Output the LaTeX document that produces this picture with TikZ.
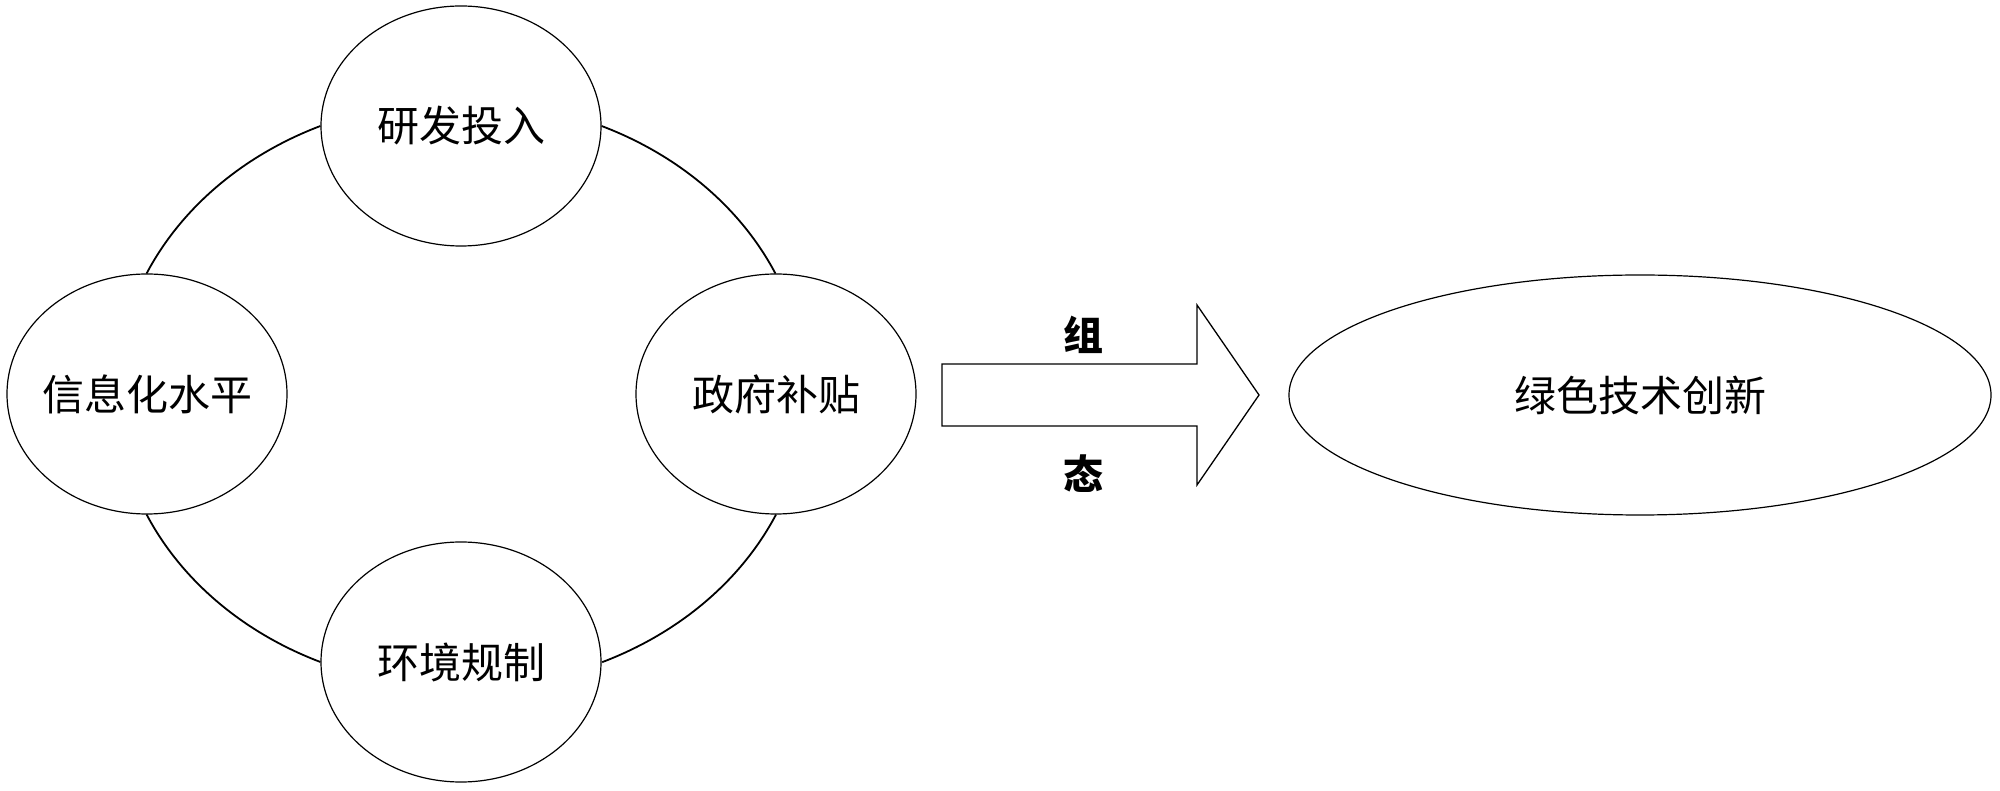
\documentclass[tikz,border=0pt]{standalone}
\usepackage{fontspec}
\newfontfamily\cjk{Noto Sans CJK SC}
\usetikzlibrary{shapes.geometric}
\begin{document}
\begin{tikzpicture}[x=1pt,y=1pt,
  ell/.style={draw, ellipse, line width=1.2pt, inner sep=0pt,
    minimum width=280pt, minimum height=240pt,
    font=\cjk\fontsize{42}{48}\selectfont},
  ring/.style={line width=1.8pt},
  blockarrow/.style={draw, line width=1.3pt, line join=miter},
  lbl/.style={font=\cjk\bfseries\fontsize{40}{46}\selectfont}]
\useasboundingbox (0,0) rectangle (2000,790);
\node[ell] (top) at (461,664) {\makebox[0pt]{研发投入}};
\node[ell] (left) at (147,396) {\makebox[0pt]{信息化水平}};
\node[ell] (right) at (776,396) {\makebox[0pt]{政府补贴}};
\node[ell] (bottom) at (461,128) {\makebox[0pt]{环境规制}};
\node[ell, minimum width=702pt] (out) at (1640,395) {\makebox[0pt]{绿色技术创新}};
\draw[ring] (top.west) arc[start angle=114, end angle=155.8, x radius=344, y radius=293];
\draw[ring] (top.east) arc[start angle=66, end angle=24.2, x radius=344, y radius=293];
\draw[ring] (right.south) arc[start angle=-24.2, end angle=-66, x radius=344, y radius=293];
\draw[ring] (bottom.west) arc[start angle=-114, end angle=-155.8, x radius=344, y radius=293];
\coordinate (a1) at (942,364);
\coordinate (a2) at (942,426);
\coordinate (a3) at (1197,426);
\coordinate (a4) at (1197,485);
\coordinate (tip) at (1259,395);
\coordinate (a5) at (1197,305);
\coordinate (a6) at (1197,364);
\draw[blockarrow] (a1) -- (a2) -- (a3) -- (a4) -- (tip) -- (a5) -- (a6) -- cycle;
\node[lbl] (zu) at (1083,455) {组};
\node[lbl] (tai) at (1083,316) {态};
\end{tikzpicture}
\end{document}
